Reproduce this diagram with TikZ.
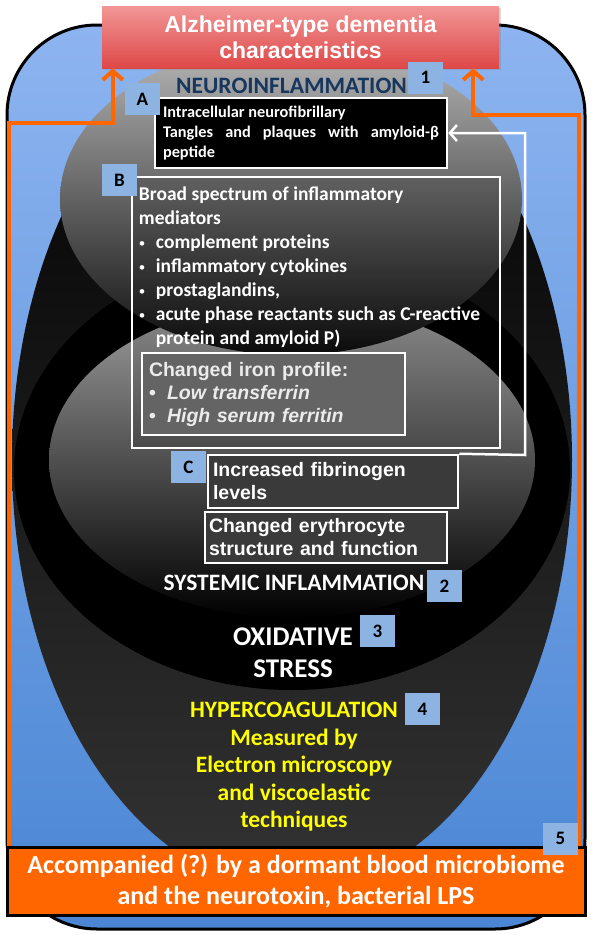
\documentclass[tikz,border=0pt]{standalone}
\usepackage{fontspec}
\setmainfont{Carlito}
\newfontfamily\arialfont{Liberation Sans}
\usepackage{tikz}
\usetikzlibrary{shapes,arrows,arrows.meta,positioning,shadows}
\usepackage{xcolor}

\definecolor{skyblue}{RGB}{141,180,240}
\definecolor{deepblue}{RGB}{74,134,212}
\definecolor{labblue}{RGB}{141,179,226}
\definecolor{alzpink}{RGB}{242,150,150}
\definecolor{alzred}{RGB}{222,72,72}
\definecolor{lpsorange}{RGB}{255,102,0}
\definecolor{navytxt}{RGB}{23,55,94}
\definecolor{coagyellow}{RGB}{255,255,0}
\definecolor{irongray}{RGB}{100,100,100}
\definecolor{irontxt}{RGB}{235,235,235}
\definecolor{boxgray}{RGB}{58,58,58}

\newcommand{\smalldot}{\makebox[17pt][l]{\raisebox{1.5pt}{\mdseries\fontsize{13}{13}\selectfont\textbullet}}}
\newcommand{\irondot}{\makebox[18pt][l]{\textbullet}}

\tikzset{
  numbox/.style={fill=labblue, minimum width=35pt, minimum height=32pt, inner sep=0pt, font=\bfseries\fontsize{19}{19}\selectfont},
  whitebox/.style={draw=white, line width=2.5pt, inner sep=0pt},
  orangeline/.style={draw=lpsorange, line width=4pt, -{Straight Barb[length=9pt,width=20pt]}},
  whiteline/.style={draw=white, line width=2.5pt, -{Straight Barb[length=7pt,width=16pt]}},
}

\begin{document}
\begin{tikzpicture}[x=1pt, y=1pt]
    \useasboundingbox (0,0) rectangle (600,-945);

    % Sfondo
    \node[draw=black, line width=3pt, rounded corners=90pt, minimum width=578pt, minimum height=904pt, top color=skyblue, bottom color=deepblue] (frame) at (296,-477) {};

    % Ellissi
    \node[ellipse, inner sep=0pt, minimum width=560pt, minimum height=860pt, top color=black, bottom color=black!80] (coag) at (292,-460) {};
    \node[ellipse, inner sep=0pt, minimum width=556pt, minimum height=440pt, fill=black] (oxid) at (292,-470) {};
    \node[ellipse, inner sep=0pt, minimum width=486pt, minimum height=316pt, top color=black!38, bottom color=black] (sysinf) at (292,-460) {};
    \node[ellipse, inner sep=0pt, minimum width=462pt, minimum height=312pt, top color=black!28, bottom color=black!95] (neuro) at (291,-199) {};

    % Titolo
    \node[minimum width=397pt, minimum height=62pt, top color=alzpink, bottom color=alzred, drop shadow={opacity=0.3}, align=center, text=white, font=\arialfont\bfseries\fontsize{23}{26}\selectfont] (title) at (300.5,-37) {Alzheimer-type dementia\\characteristics};

    % Riquadro in basso
    \node[draw=black, line width=3pt, fill=lpsorange, minimum width=578pt, minimum height=68pt, align=center, text=white, font=\bfseries\fontsize{26}{31}\selectfont] (lps) at (296,-881) {Accompanied (?) by a dormant blood microbiome\\and the neurotoxin, bacterial LPS};

    % Frecce arancioni
    \draw[orangeline] ([xshift=3pt]lps.north west) |- ([xshift=11pt,yshift=-55pt]title.south west) -- ([xshift=11pt]title.south west);
    \draw[orangeline] ([xshift=-8pt]lps.north east) |- ([xshift=-26pt,yshift=-47pt]title.south east) -- ([xshift=-26pt]title.south east);

    % Neuroinfiammazione
    \node[text=navytxt, font=\bfseries\fontsize{23.5}{23.5}\selectfont] (neurolab) at (291.5,-86) {NEUROINFLAMMATION};
    \node[whitebox, fill=black, minimum width=292pt, minimum height=70pt, text width=276pt, align=justify, text=white, font=\bfseries\fontsize{16.3}{20}\selectfont] (amyloid) at (301,-133) {Intracellular neurofibrillary\\Tangles and plaques with \mbox{amyloid-β} \mbox{peptide}};

    \node[whitebox, fill=black, fill opacity=0.12, minimum width=368pt, minimum height=271pt] (mediators) at (316,-312.5) {};
    \node[anchor=north west, inner sep=0pt, align=left, text=white, font=\bfseries\fontsize{19.5}{24}\selectfont] (medtext) at ([xshift=8pt,yshift=-11pt]mediators.north west) {Broad spectrum of inflammatory\\
      mediators\\
      \smalldot complement proteins\\
      \smalldot inflammatory cytokines\\
      \smalldot prostaglandins,\\
      \smalldot acute phase reactants such as C-reactive\\
      \hspace*{17pt}protein and amyloid P)};

    \node[whitebox, fill=irongray, minimum width=263pt, minimum height=82pt, text width=249pt, align=left, text=irontxt, font=\arialfont\bfseries\fontsize{19.5}{23}\selectfont] (iron) at (273.5,-394) {Changed iron profile:\\
      \irondot\textit{Low transferrin}\\
      \irondot\textit{High serum ferritin}};

    % Infiammazione sistemica
    \node[whitebox, fill=boxgray, minimum width=250pt, minimum height=53pt, text width=240pt, align=left, text=white, font=\arialfont\bfseries\fontsize{19.5}{23}\selectfont] (fib) at (333,-481.5) {Increased fibrinogen\\levels};
    \node[whitebox, fill=boxgray, minimum width=242pt, minimum height=51pt, text width=234pt, align=left, text=white, font=\arialfont\bfseries\fontsize{19.5}{23}\selectfont] (ery) at (326,-537.5) {Changed erythrocyte\\structure and function};
    \draw[whiteline] (fib.north east) -- (525,-455) |- (amyloid.east);

    \node[text=white, font=\bfseries\fontsize{23.5}{23.5}\selectfont] (syslab) at (294,-583) {SYSTEMIC INFLAMMATION};
    \node[text=white, align=center, font=\bfseries\fontsize{27}{32}\selectfont] (oxlab) at (293,-653) {OXIDATIVE\\STRESS};
    \node[text=coagyellow, align=center, font=\bfseries\fontsize{23.5}{27.5}\selectfont] (coaglab) at (294,-767) {HYPERCOAGULATION\\Measured by\\Electron microscopy\\and viscoelastic\\techniques};

    % Etichette
    \node[numbox] (n1) at (425.5,-77.5) {1};
    \node[numbox] (labA) at (142.5,-99) {A};
    \node[numbox] (labB) at (119.5,-180) {B};
    \node[numbox] (labC) at (188.5,-467) {C};
    \node[numbox] (n2) at (444.5,-586) {2};
    \node[numbox] (n3) at (377.5,-631) {3};
    \node[numbox] (n4) at (422.5,-709) {4};
    \node[numbox] (n5) at (560.5,-838.5) {5};
\end{tikzpicture}
\end{document}
